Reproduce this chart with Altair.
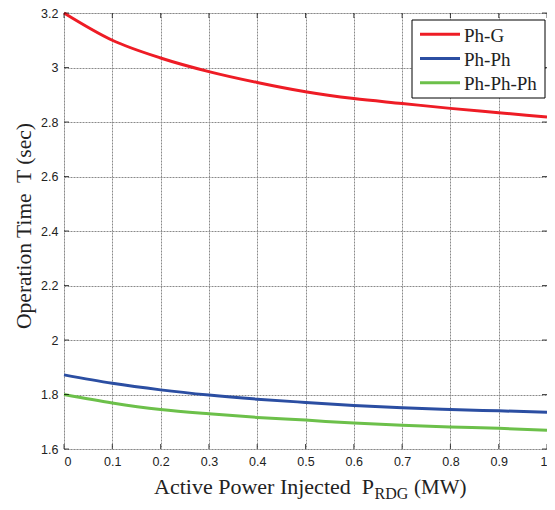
import altair as alt
import pandas as pd

x_vals = [0.0, 0.1, 0.2, 0.3, 0.4, 0.5, 0.6, 0.7, 0.8, 0.9, 1.0]
ph_g = [3.200, 3.100, 3.035, 2.985, 2.945, 2.911, 2.886, 2.868, 2.850, 2.834, 2.818]
ph_ph = [1.872, 1.841, 1.817, 1.798, 1.783, 1.771, 1.760, 1.751, 1.745, 1.740, 1.735]
ph_ph_ph = [1.800, 1.769, 1.745, 1.729, 1.716, 1.706, 1.695, 1.687, 1.681, 1.676, 1.669]

series_names = ["Ph-G", "Ph-Ph", "Ph-Ph-Ph"]
series_colors = ["#ee1c25", "#2b4ea2", "#6cc04a"]

x_ticks = [0, 0.1, 0.2, 0.3, 0.4, 0.5, 0.6, 0.7, 0.8, 0.9, 1.0]
y_ticks = [1.6, 1.8, 2.0, 2.2, 2.4, 2.6, 2.8, 3.0, 3.2]

rows = []
for name, vals in zip(series_names, [ph_g, ph_ph, ph_ph_ph]):
    for xv, yv in zip(x_vals, vals):
        rows.append({"x": xv, "y": yv, "series": name})
df = pd.DataFrame(rows)

W, H = 483, 436

xscale = alt.Scale(domain=[0, 1], nice=False, zero=False)
yscale = alt.Scale(domain=[1.6, 3.2], nice=False, zero=False)

grid_axis = dict(
    format="~g", grid=True, gridColor="#8a8a8a", gridDash=[2, 1], gridWidth=1,
    ticks=False, domain=False, labelFont="Liberation Sans", labelFontSize=12.5,
    labelColor="#222", title=None, labelPadding=6,
)

lines = alt.Chart(df).mark_line(strokeWidth=3, interpolate="monotone").encode(
    x=alt.X("x:Q", scale=xscale, axis=alt.Axis(values=x_ticks, **grid_axis)),
    y=alt.Y("y:Q", scale=yscale, axis=alt.Axis(values=y_ticks, **grid_axis)),
    color=alt.Color("series:N", scale=alt.Scale(domain=series_names, range=series_colors),
                    legend=None),
)

xt = pd.DataFrame({"x": x_ticks})
yt = pd.DataFrame({"y": y_ticks})
tick_bottom = alt.Chart(xt).mark_tick(color="black", size=5, thickness=1).encode(
    x=alt.X("x:Q", scale=xscale), y=alt.value(H - 2.5))
tick_top = alt.Chart(xt).mark_tick(color="black", size=5, thickness=1).encode(
    x=alt.X("x:Q", scale=xscale), y=alt.value(2.5))
tick_left = alt.Chart(yt).mark_tick(color="black", size=5, thickness=1).encode(
    y=alt.Y("y:Q", scale=yscale), x=alt.value(2.5))
tick_right = alt.Chart(yt).mark_tick(color="black", size=5, thickness=1).encode(
    y=alt.Y("y:Q", scale=yscale), x=alt.value(W - 2.5))

one = pd.DataFrame({"a": [0]})
serif = "Liberation Serif"
t_main = alt.Chart(one).mark_text(text="Active Power Injected\u00a0 P", font=serif,
                                  fontSize=22, align="right", baseline="alphabetic",
                                  color="#222").encode(x=alt.value(310), y=alt.value(481))
t_sub = alt.Chart(one).mark_text(text="RDG", font=serif, fontSize=16,
                                 align="left", baseline="alphabetic",
                                 color="#222").encode(x=alt.value(310.5), y=alt.value(486))
t_unit = alt.Chart(one).mark_text(text="(MW)", font=serif, fontSize=21,
                                  align="left", baseline="alphabetic",
                                  color="#222").encode(x=alt.value(350), y=alt.value(481))
t_ytitle = alt.Chart(one).mark_text(text="Operation Time\u00a0 T (sec)", font=serif,
                                    fontSize=21.5, align="center", baseline="alphabetic",
                                    angle=270, color="#222").encode(
    x=alt.value(-33), y=alt.value(213))

# legend box
leg_box = alt.Chart(one).mark_rect(fill="white", stroke="black", strokeWidth=1).encode(
    x=alt.value(348), x2=alt.value(481), y=alt.value(7), y2=alt.value(85))
leg_layers = [leg_box]
for i, (name, col) in enumerate(zip(series_names, series_colors)):
    yy = 21.3 + 24.2 * i
    leg_layers.append(alt.Chart(one).mark_rule(color=col, strokeWidth=3).encode(
        x=alt.value(356), x2=alt.value(396), y=alt.value(yy)))
    leg_layers.append(alt.Chart(one).mark_text(text=name, font=serif, fontSize=19,
                                               align="left", baseline="middle",
                                               color="#222").encode(
        x=alt.value(400), y=alt.value(yy + 1.5)))

chart = alt.layer(lines, tick_bottom, tick_top, tick_left, tick_right,
                  t_main, t_sub, t_unit, t_ytitle, *leg_layers).properties(
    width=W, height=H,
    autosize=alt.AutoSizeParams(type="none"),
    padding={"left": 56, "top": 5, "right": 0, "bottom": 53},
).configure_view(stroke="black", strokeWidth=1.5).configure(background="white")

chart.save("out.html", embed_options={"renderer": "svg", "actions": False})
